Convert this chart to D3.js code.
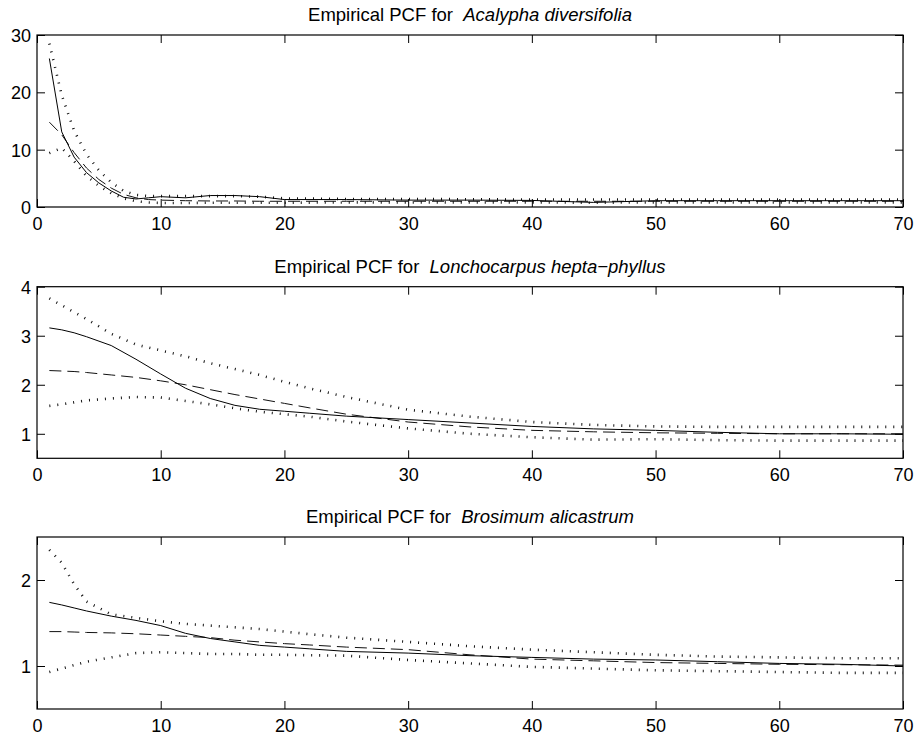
<!DOCTYPE html>
<html>
<head>
<meta charset="utf-8">
<script src="https://cdn.jsdelivr.net/npm/d3@7"></script>
<style>
  body { margin: 0; background: #fff; }
  svg { display: block; font-family: "Liberation Sans", Arial, Helvetica, sans-serif; }
</style>
</head>
<body>
<svg width="915" height="740"></svg>
<script>
// species names (titles)
var species = ["Acalypha diversifolia", "Lonchocarpus hepta\u2212phyllus", "Brosimum alicastrum"];

// panel 1: Acalypha diversifolia
var x1 = [1,2,3,4,5,6,7,8,9,10,12,14,16,18,20,25,30,35,40,45,50,55,60,65,70];
var pcf1   = [25.9,13.1,8.7,6.0,4.2,2.8,1.7,1.4,1.6,1.8,1.6,2.0,2.0,1.8,1.3,1.3,1.2,1.2,1.15,0.8,1.1,1.1,1.1,1.1,1.1];
var theo1  = [14.8,12.6,9.5,6.8,4.8,3.3,2.2,1.6,1.3,1.2,1.1,1.05,1.05,1.0,1.0,1.0,1.0,1.0,1.0,1.0,1.0,1.0,1.0,1.0,1.0];
var upper1 = [28.5,19.5,13.3,9.2,6.4,4.3,2.8,2.1,1.9,1.9,1.9,1.9,1.9,1.8,1.5,1.4,1.4,1.35,1.3,1.3,1.3,1.3,1.3,1.3,1.3];
var lower1 = [9.4,10.3,8.0,5.4,3.7,2.4,1.5,1.0,0.8,0.7,0.7,0.75,0.75,0.75,0.75,0.8,0.8,0.8,0.8,0.75,0.8,0.8,0.8,0.8,0.8];

// panel 2: Lonchocarpus hepta-phyllus
var x2 = [1,2,3,4,6,8,10,12,14,16,18,20,22,25,30,35,40,45,50,55,60,65,70];
var pcf2   = [3.16,3.12,3.06,2.98,2.80,2.52,2.22,1.93,1.72,1.58,1.50,1.46,1.42,1.36,1.29,1.22,1.15,1.10,1.07,1.03,1.00,1.00,0.99];
var theo2  = [2.29,2.28,2.27,2.25,2.20,2.15,2.08,2.00,1.90,1.80,1.71,1.62,1.53,1.40,1.24,1.14,1.07,1.04,1.02,1.01,1.00,1.00,1.00];
var upper2 = [3.76,3.62,3.48,3.34,3.04,2.82,2.70,2.58,2.44,2.32,2.20,2.06,1.93,1.75,1.49,1.35,1.24,1.18,1.15,1.14,1.14,1.14,1.14];
var lower2 = [1.57,1.60,1.64,1.68,1.72,1.75,1.74,1.67,1.60,1.52,1.45,1.40,1.35,1.25,1.11,1.00,0.93,0.88,0.89,0.87,0.86,0.86,0.86];

// panel 3: Brosimum alicastrum
var x3 = [1,2,3,4,6,8,10,12,14,16,18,20,22,25,30,35,40,45,50,55,60,65,70];
var pcf3   = [1.74,1.71,1.675,1.64,1.58,1.53,1.47,1.38,1.32,1.28,1.24,1.22,1.20,1.17,1.15,1.12,1.10,1.08,1.07,1.05,1.03,1.02,1.00];
var theo3  = [1.40,1.40,1.395,1.39,1.385,1.375,1.36,1.345,1.33,1.30,1.28,1.26,1.245,1.22,1.19,1.13,1.08,1.06,1.04,1.03,1.02,1.015,1.01];
var upper3 = [2.35,2.20,1.95,1.75,1.60,1.56,1.52,1.49,1.47,1.45,1.43,1.40,1.37,1.33,1.28,1.23,1.19,1.16,1.13,1.11,1.10,1.09,1.09];
var lower3 = [0.93,0.97,1.01,1.05,1.10,1.15,1.16,1.15,1.14,1.14,1.13,1.13,1.125,1.12,1.07,1.03,0.99,0.97,0.95,0.94,0.93,0.92,0.92];

// axes
var xTicks = [0,10,20,30,40,50,60,70];
var yDomains = [[0,30],[0.5,4],[0.5,2.5]];
var yTicks = [[0,10,20,30],[1,2,3,4],[1,2]];

var svg = d3.select("svg"),
    left = 37, right = 903;
var tops = [35, 286.7, 537], bottoms = [207, 458.3, 709];

var panels = [
  {x: x1, pcf: pcf1, theo: theo1, upper: upper1, lower: lower1},
  {x: x2, pcf: pcf2, theo: theo2, upper: upper2, lower: lower2},
  {x: x3, pcf: pcf3, theo: theo3, upper: upper3, lower: lower3}
];

var x = d3.scaleLinear().domain([0,70]).range([left, right]);

panels.forEach(function(p, i){
  var y = d3.scaleLinear().domain(yDomains[i]).range([bottoms[i], tops[i]]);
  var g = svg.append("g");

  var line = function(vals){
    return d3.line()
      .x(function(d, k){ return x(p.x[k]); })
      .y(function(d){ return y(d); })(vals);
  };

  var clipId = "clip" + i;
  svg.append("clipPath").attr("id", clipId).append("rect")
    .attr("x", left).attr("y", tops[i]).attr("width", right - left).attr("height", bottoms[i] - tops[i]);
  var lines = g.append("g").attr("clip-path", "url(#" + clipId + ")");

  // envelopes (dotted)
  [p.upper, p.lower].forEach(function(v){
    lines.append("path").attr("d", line(v))
      .attr("fill", "none").attr("stroke", "#111")
      .attr("stroke-width", 2.6).attr("stroke-dasharray", "1,7");
  });
  // theoretical (dashed)
  lines.append("path").attr("d", line(p.theo))
    .attr("fill", "none").attr("stroke", "#111")
    .attr("stroke-width", 1).attr("stroke-dasharray", "12,6");
  // empirical (solid)
  lines.append("path").attr("d", line(p.pcf))
    .attr("fill", "none").attr("stroke", "#000").attr("stroke-width", 1);

  // axes with inward ticks
  g.append("g").attr("transform", "translate(0," + bottoms[i] + ")")
    .call(d3.axisBottom(x).tickValues(xTicks).tickSizeInner(-8).tickSizeOuter(0).tickPadding(10));
  g.append("g").attr("transform", "translate(0," + tops[i] + ")")
    .call(d3.axisTop(x).tickValues(xTicks).tickSizeInner(-8).tickSizeOuter(0).tickFormat(""));
  var ay = g.append("g").attr("transform", "translate(" + left + ",0)")
    .call(d3.axisLeft(y).tickValues(yTicks[i]).tickSizeInner(-8).tickSizeOuter(0).tickPadding(6).tickFormat(d3.format("d")));
  g.append("g").attr("transform", "translate(" + right + ",0)")
    .call(d3.axisRight(y).tickValues(yTicks[i]).tickSizeInner(-8).tickSizeOuter(0).tickFormat(""));

  g.selectAll(".domain").remove();
  g.selectAll(".tick line").attr("stroke", "#000");
  g.selectAll(".tick text").attr("fill", "#000").style("font-size", "18px");
  ay.selectAll(".tick text").attr("dy", "0.36em");

  // frame
  g.append("rect").attr("x", left).attr("y", tops[i])
    .attr("width", right - left).attr("height", bottoms[i] - tops[i])
    .attr("fill", "none").attr("stroke", "#000").attr("stroke-width", 1.2);

  // title
  var t = g.append("text").attr("x", (left + right) / 2).attr("y", tops[i] - 14)
    .attr("text-anchor", "middle").style("font-size", "18.5px").attr("fill", "#000");
  t.append("tspan").text("Empirical PCF for  ").attr("xml:space", "preserve");
  t.append("tspan").style("font-style", "italic").text(species[i]);
});
</script>
</body>
</html>
